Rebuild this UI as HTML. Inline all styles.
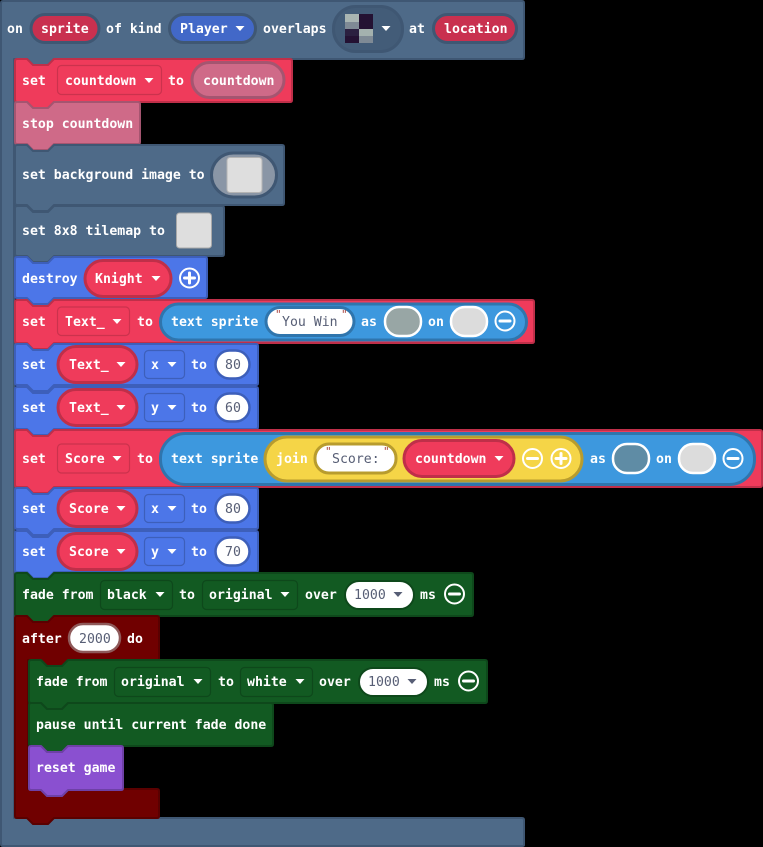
<!DOCTYPE html>
<html><head><meta charset="utf-8"><style>
html,body{margin:0;padding:0;background:#000;width:763px;height:847px;overflow:hidden}
svg{display:block}
text{font-family:"DejaVu Sans Mono","Liberation Mono",monospace;font-size:13.2px;font-weight:bold;fill:#fff;white-space:pre}
.d{fill:#575e75;font-weight:normal}
.q{fill:#a8443f;font-size:11px;font-weight:normal}
.h{fill:#4e6a88;stroke:#3f5773;stroke-width:2;stroke-linejoin:round}
.r{fill:#ef3b5b;stroke:#bf2f49;stroke-width:2;stroke-linejoin:round}
.rd{fill:#ef3b5b;stroke:#cb324d;stroke-width:1.2}
.rp{fill:#ef3b5b;stroke:#bf2f49;stroke-width:3}
.p{fill:#cf6a88;stroke:#a55570;stroke-width:2;stroke-linejoin:round}
.b{fill:#4c76e8;stroke:#3d5fba;stroke-width:2;stroke-linejoin:round}
.bd{fill:#4c76e8;stroke:#3d5fba;stroke-width:1.2}
.w{fill:#fff}
.g{fill:#125a22;stroke:#0e481b;stroke-width:2;stroke-linejoin:round}
.gd{fill:#125a22;stroke:#0e481b;stroke-width:1.2}
.m{fill:#700000;stroke:#5a0000;stroke-width:2;stroke-linejoin:round}
.v{fill:#8a50d0;stroke:#6e40a6;stroke-width:2;stroke-linejoin:round}
.o{fill:none;stroke:#fff;stroke-width:2}
.l{stroke:#fff;stroke-width:3;stroke-linecap:round;fill:none}
</style></head><body>
<svg width="763" height="847" viewBox="0 0 763 847" xmlns="http://www.w3.org/2000/svg">
<rect width="763" height="847" fill="#000"/>

<path class="h" d="M1 3q0-2 2-2H522q2 0 2 2V57q0 2-2 2H54l-6 6h-15l-6-6H14V818H522q2 0 2 2V845q0 1-2 1H3q-2 0-2-2z"/>
<text x="7" y="33">on</text>
<rect x="31" y="14.500" width="68" height="28" rx="14" fill="#c9304f" stroke="#3f5773" stroke-width="3"/>
<text x="41" y="33">sprite</text>
<text x="106" y="33">of kind</text>
<rect x="169.500" y="14.500" width="86" height="28" rx="14" fill="#4268c8" stroke="#3f5773" stroke-width="3"/>
<text x="180" y="33">Player</text>
<path class="w" d="M235.500 26h9l-4.500 5z"/>
<text x="263" y="33">overlaps</text>
<rect x="333.500" y="6.500" width="69" height="45" rx="22" fill="#435c78" stroke="#3f5773" stroke-width="3"/>
<rect x="345" y="14" width="14" height="8" fill="#a9b5b2"/>
<rect x="345" y="22" width="14" height="7" fill="#7f8a95"/>
<rect x="359" y="14" width="14" height="15" fill="#241233"/>
<rect x="345" y="29" width="14" height="7" fill="#2b2040"/>
<rect x="345" y="36" width="14" height="7" fill="#241233"/>
<rect x="359" y="29" width="14" height="7" fill="#a4b1ae"/>
<rect x="359" y="36" width="14" height="7" fill="#7f8a95"/>
<path class="w" d="M381.500 26h9l-4.500 5z"/>
<text x="409" y="33">at</text>
<rect x="433.500" y="14.500" width="83" height="28" rx="14" fill="#c9304f" stroke="#3f5773" stroke-width="3"/>
<text x="444" y="33">location</text>

<path class="r" d="M15 61q0-2 2-2h10l6 6h15l6-6H290q2 0 2 2V100q0 2-2 2H54l-6 6h-15l-6-6H17q-2 0-2-2z"/>
<text x="22" y="85">set</text>
<rect x="57.500" y="65.500" width="104" height="29" rx="4" class="rd"/>
<text x="65" y="85">countdown</text>
<path class="w" d="M144.500 78h9l-4.500 5z"/>
<text x="168" y="85">to</text>
<rect x="192" y="62.500" width="92" height="35" rx="17.500" fill="#cf6a88" stroke="#a55570" stroke-width="3"/>
<text x="203" y="85">countdown</text>

<path class="p" d="M15 104q0-2 2-2h10l6 6h15l6-6H138q2 0 2 2V142q0 2-2 2H54l-6 6h-15l-6-6H17q-2 0-2-2z"/>
<text x="22" y="128">stop countdown</text>

<path class="h" d="M15 147q0-2 2-2h10l6 6h15l6-6H282q2 0 2 2V203q0 2-2 2H54l-6 6h-15l-6-6H17q-2 0-2-2z"/>
<text x="22" y="179">set background image to</text>
<rect x="211.500" y="153" width="65" height="44" rx="22" fill="#8a96a6" stroke="#3f5773" stroke-width="3"/>
<rect x="227" y="157.500" width="35" height="35" rx="3" fill="#dedede" stroke="#b4b4b4"/>

<path class="h" d="M15 208q0-2 2-2h10l6 6h15l6-6H222q2 0 2 2V254q0 2-2 2H54l-6 6h-15l-6-6H17q-2 0-2-2z"/>
<text x="22" y="235">set 8x8 tilemap to</text>
<rect x="176.500" y="213" width="35" height="35" rx="3" fill="#dedede" stroke="#a9a9a9"/>

<path class="b" d="M15 259q0-2 2-2h10l6 6h15l6-6H205q2 0 2 2V296q0 2-2 2H54l-6 6h-15l-6-6H17q-2 0-2-2z"/>
<text x="22" y="283">destroy</text>
<rect x="85" y="260.500" width="86" height="36" rx="18" class="rp"/>
<text x="95" y="283">Knight</text>
<path class="w" d="M151.500 276h9l-4.500 5z"/>
<circle cx="189.500" cy="278" r="9.500" class="o"/>
<path class="l" d="M184.500 278h10M189.500 273v10"/>

<path class="r" d="M15 302q0-2 2-2h10l6 6h15l6-6H532q2 0 2 2V341q0 2-2 2H54l-6 6h-15l-6-6H17q-2 0-2-2z"/>
<text x="22" y="326">set</text>
<rect x="57.500" y="307" width="72" height="28.500" rx="4" class="rd"/>
<text x="65" y="326">Text_</text>
<path class="w" d="M112.500 319h9l-4.500 5z"/>
<text x="137" y="326">to</text>
<rect x="160.500" y="304" width="366" height="36" rx="18" fill="#3d98de" stroke="#2f75ad" stroke-width="3"/>
<text x="171" y="326">text sprite</text>
<rect x="266" y="307.500" width="88" height="28" rx="14" fill="#fff" stroke="#2f75ad" stroke-width="3"/>
<text x="275" y="318" class="q">"</text>
<text x="282" y="326" class="d">You Win</text>
<text x="341" y="318" class="q">"</text>
<text x="361" y="326">as</text>
<rect x="385" y="307" width="36" height="29" rx="14" fill="#98a6a5" stroke="#fff" stroke-width="2.500"/>
<text x="428" y="326">on</text>
<rect x="451" y="307" width="36" height="29" rx="14" fill="#dcdcdc" stroke="#fff" stroke-width="2.500"/>
<circle cx="505" cy="321" r="9.500" class="o"/>
<path class="l" d="M500 321h10"/>

<path class="b" d="M15 346q0-2 2-2h10l6 6h15l6-6H256q2 0 2 2V383q0 2-2 2H54l-6 6h-15l-6-6H17q-2 0-2-2z"/>
<text x="22" y="369">set</text>
<rect x="58" y="346.500" width="79" height="36" rx="18" class="rp"/>
<text x="69" y="369">Text_</text>
<path class="w" d="M116.500 362h9l-4.500 5z"/>
<rect x="144.500" y="350.500" width="40" height="28" rx="4" class="bd"/>
<text x="151" y="369">x</text>
<path class="w" d="M167.500 362h9l-4.500 5z"/>
<text x="191" y="369">to</text>
<rect x="215.500" y="350.500" width="34" height="28" rx="14" fill="#fff" stroke="#3d5fba" stroke-width="2.500"/>
<text x="225" y="369" class="d">80</text>

<path class="b" d="M15 389q0-2 2-2h10l6 6h15l6-6H256q2 0 2 2V427q0 2-2 2H54l-6 6h-15l-6-6H17q-2 0-2-2z"/>
<text x="22" y="412">set</text>
<rect x="58" y="389.500" width="79" height="36" rx="18" class="rp"/>
<text x="69" y="412">Text_</text>
<path class="w" d="M116.500 405h9l-4.500 5z"/>
<rect x="144.500" y="393.500" width="40" height="28" rx="4" class="bd"/>
<text x="151" y="412">y</text>
<path class="w" d="M167.500 405h9l-4.500 5z"/>
<text x="191" y="412">to</text>
<rect x="215.500" y="393.500" width="34" height="28" rx="14" fill="#fff" stroke="#3d5fba" stroke-width="2.500"/>
<text x="225" y="412" class="d">60</text>

<path class="r" d="M15 432q0-2 2-2h10l6 6h15l6-6H760q2 0 2 2V485q0 2-2 2H54l-6 6h-15l-6-6H17q-2 0-2-2z"/>
<text x="22" y="463">set</text>
<rect x="57.500" y="444" width="72" height="29" rx="4" class="rd"/>
<text x="65" y="463">Score</text>
<path class="w" d="M112.500 456h9l-4.500 5z"/>
<text x="137" y="463">to</text>
<rect x="160.500" y="433.500" width="594" height="51" rx="25" fill="#3d98de" stroke="#2f75ad" stroke-width="3"/>
<text x="171" y="463">text sprite</text>
<rect x="265" y="437" width="317" height="44" rx="22" fill="#f5d547" stroke="#b89c2e" stroke-width="3"/>
<text x="276" y="463">join</text>
<rect x="315" y="444" width="81" height="29" rx="14" fill="#fff" stroke="#b89c2e" stroke-width="3"/>
<text x="325" y="455" class="q">"</text>
<text x="332" y="463" class="d">Score:</text>
<text x="383" y="455" class="q">"</text>
<rect x="404" y="440.500" width="110" height="36" rx="18" class="rp"/>
<text x="415" y="463">countdown</text>
<path class="w" d="M494.500 456h9l-4.500 5z"/>
<circle cx="532.500" cy="458.500" r="9.500" class="o"/>
<path class="l" d="M527.500 458.500h10"/>
<circle cx="561" cy="458.500" r="9.500" class="o"/>
<path class="l" d="M556 458.500h10M561 453.500v10"/>
<text x="590" y="463">as</text>
<rect x="613" y="444" width="36" height="29" rx="14" fill="#5f8ca5" stroke="#fff" stroke-width="2.500"/>
<text x="656" y="463">on</text>
<rect x="679" y="444" width="36" height="29" rx="14" fill="#dcdcdc" stroke="#fff" stroke-width="2.500"/>
<circle cx="733" cy="458.500" r="9.500" class="o"/>
<path class="l" d="M728 458.500h10"/>

<path class="b" d="M15 490q0-2 2-2h10l6 6h15l6-6H256q2 0 2 2V527q0 2-2 2H54l-6 6h-15l-6-6H17q-2 0-2-2z"/>
<text x="22" y="513">set</text>
<rect x="58" y="490.500" width="79" height="36" rx="18" class="rp"/>
<text x="69" y="513">Score</text>
<path class="w" d="M116.500 506h9l-4.500 5z"/>
<rect x="144.500" y="494.500" width="40" height="28" rx="4" class="bd"/>
<text x="151" y="513">x</text>
<path class="w" d="M167.500 506h9l-4.500 5z"/>
<text x="191" y="513">to</text>
<rect x="215.500" y="494.500" width="34" height="28" rx="14" fill="#fff" stroke="#3d5fba" stroke-width="2.500"/>
<text x="225" y="513" class="d">80</text>

<path class="b" d="M15 533q0-2 2-2h10l6 6h15l6-6H256q2 0 2 2V570q0 2-2 2H54l-6 6h-15l-6-6H17q-2 0-2-2z"/>
<text x="22" y="556">set</text>
<rect x="58" y="533.500" width="79" height="36" rx="18" class="rp"/>
<text x="69" y="556">Score</text>
<path class="w" d="M116.500 549h9l-4.500 5z"/>
<rect x="144.500" y="537.500" width="40" height="28" rx="4" class="bd"/>
<text x="151" y="556">y</text>
<path class="w" d="M167.500 549h9l-4.500 5z"/>
<text x="191" y="556">to</text>
<rect x="215.500" y="537.500" width="34" height="28" rx="14" fill="#fff" stroke="#3d5fba" stroke-width="2.500"/>
<text x="225" y="556" class="d">70</text>

<path class="g" d="M15 575q0-2 2-2h10l6 6h15l6-6H471q2 0 2 2V614q0 2-2 2H54l-6 6h-15l-6-6H17q-2 0-2-2z"/>
<text x="22" y="599">fade from</text>
<rect x="100.500" y="580.500" width="72" height="29" rx="4" class="gd"/>
<text x="107" y="599">black</text>
<path class="w" d="M155.500 592h9l-4.500 5z"/>
<text x="179" y="599">to</text>
<rect x="202.500" y="580.500" width="95" height="29" rx="4" class="gd"/>
<text x="209" y="599">original</text>
<path class="w" d="M280.500 592h9l-4.500 5z"/>
<text x="305" y="599">over</text>
<rect x="345" y="581" width="69" height="28" rx="14" fill="#fff" stroke="#0e481b" stroke-width="2"/>
<text x="354" y="599" class="d">1000</text>
<path fill="#575e75" d="M393.500 592h9l-4.500 5z"/>
<text x="420" y="599">ms</text>
<circle cx="454.500" cy="594" r="9.500" class="o"/>
<path class="l" d="M449.500 594h10"/>

<path class="m" d="M15 618q0-2 2-2h10l6 6h15l6-6H157q2 0 2 2V660H68l-6 6h-15l-6-6H28V789H157q2 0 2 2V816q0 2-2 2H54l-6 6h-15l-6-6H17q-2 0-2-2z"/>
<text x="22" y="643">after</text>
<rect x="69" y="624" width="51" height="28" rx="14" fill="#fff" stroke="#8f5a5a" stroke-width="2.500"/>
<text x="79" y="643" class="d">2000</text>
<text x="127" y="643">do</text>

<path class="g" d="M29 662q0-2 2-2h10l6 6h15l6-6H485q2 0 2 2V701q0 2-2 2H68l-6 6h-15l-6-6H31q-2 0-2-2z"/>
<text x="36" y="686">fade from</text>
<rect x="114.500" y="667.500" width="96" height="29" rx="4" class="gd"/>
<text x="121" y="686">original</text>
<path class="w" d="M193.500 679h9l-4.500 5z"/>
<text x="218" y="686">to</text>
<rect x="240.500" y="667.500" width="72" height="29" rx="4" class="gd"/>
<text x="247" y="686">white</text>
<path class="w" d="M295.500 679h9l-4.500 5z"/>
<text x="319" y="686">over</text>
<rect x="359" y="668" width="69" height="28" rx="14" fill="#fff" stroke="#0e481b" stroke-width="2"/>
<text x="368" y="686" class="d">1000</text>
<path fill="#575e75" d="M407.500 679h9l-4.500 5z"/>
<text x="434" y="686">ms</text>
<circle cx="468.500" cy="681" r="9.500" class="o"/>
<path class="l" d="M463.500 681h10"/>

<path class="g" d="M29 705q0-2 2-2h10l6 6h15l6-6H271q2 0 2 2V744q0 2-2 2H68l-6 6h-15l-6-6H31q-2 0-2-2z"/>
<text x="36" y="729">pause until current fade done</text>

<path class="v" d="M29 748q0-2 2-2h10l6 6h15l6-6H121q2 0 2 2V788q0 2-2 2H68l-6 6h-15l-6-6H31q-2 0-2-2z"/>
<text x="36" y="772">reset game</text>
</svg>
</body></html>
